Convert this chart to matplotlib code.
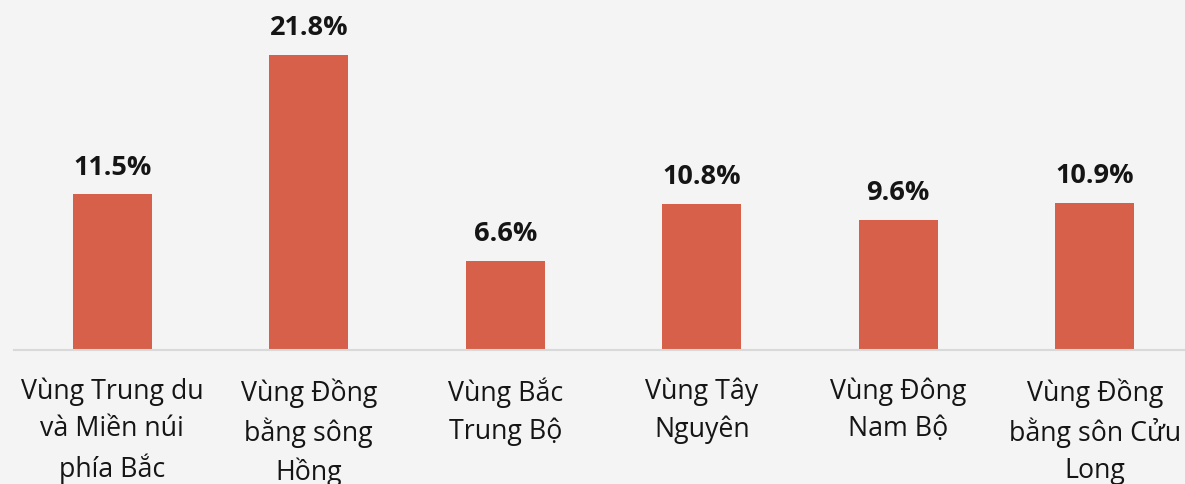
import matplotlib
matplotlib.use('Agg')
from matplotlib import pyplot as plt
import numpy as np

regions = ['Vùng Trung du\nvà Miền núi\nphía Bắc', 'Vùng Đồng\nbằng sông\nHồng',
           'Vùng Bắc\nTrung Bộ', 'Vùng Tây\nNguyên', 'Vùng Đông\nNam Bộ',
           'Vùng Đồng\nbằng sôn Cửu\nLong']
shares = [11.5, 21.8, 6.6, 10.8, 9.6, 10.9]
value_labels = ['11.5%', '21.8%', '6.6%', '10.8%', '9.6%', '10.9%']

plt.rcParams['font.family'] = ['Open Sans', 'DejaVu Sans']
bg = '#f4f4f4'

fig = plt.figure(figsize=(11.85, 4.84), dpi=100, facecolor=bg)
ax = fig.add_axes([14 / 1185, 134 / 484, 1179 / 1185, 350 / 484], facecolor=bg)

x = np.arange(len(regions))
bars = ax.bar(x, shares, width=0.40, color='#d6604a', zorder=2)
ax.set_xlim(-0.5, 5.5)
ax.set_ylim(0, 25.87)

for rect, lbl in zip(bars, value_labels):
    ax.annotate(lbl, (rect.get_x() + rect.get_width() / 2, rect.get_height()),
                xytext=(0, 10), textcoords='offset points', ha='center', va='bottom',
                fontsize=19.5, fontweight='bold', color='#151515')

for xi, name in zip(x, regions):
    ax.text(xi, -28 / 350, name, transform=ax.get_xaxis_transform(), ha='center', va='top',
            fontsize=19.3, color='#151515', linespacing=1.42)

for s in ['top', 'right', 'left']:
    ax.spines[s].set_visible(False)
ax.spines['bottom'].set_color('#d9d9d9')
ax.spines['bottom'].set_linewidth(1.5)
ax.set_xticks([])
ax.set_yticks([])

fig.savefig('out.png', dpi=100, facecolor=bg)
